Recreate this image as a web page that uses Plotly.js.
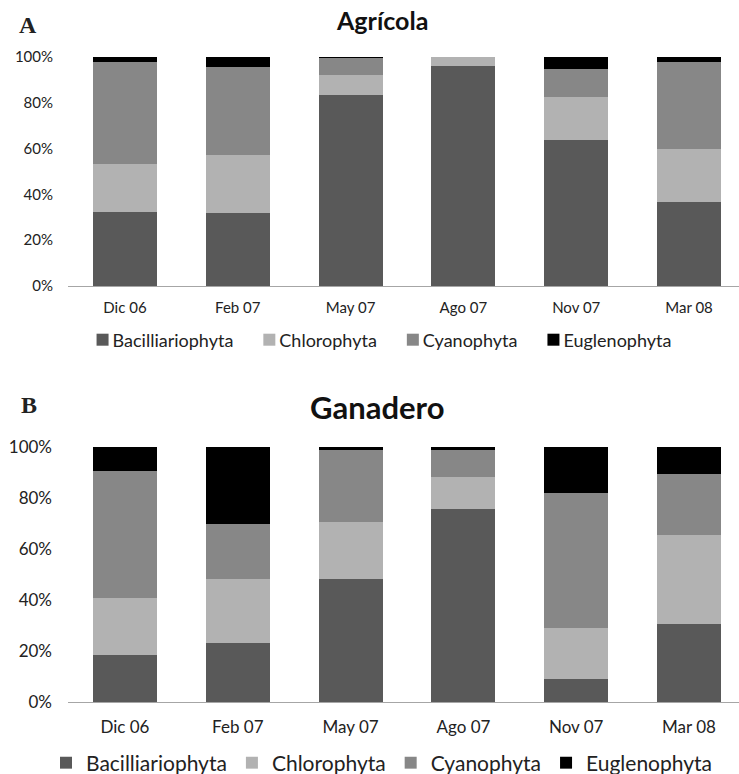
<!DOCTYPE html>
<html><head><meta charset="utf-8">
<script src="https://cdn.plot.ly/plotly-3.0.1.min.js"></script>
<style>html,body{margin:0;padding:0;background:#fff;overflow:hidden}</style>
</head><body><div id="chart" style="width:739px;height:774px"></div>
<script>
const categories = ["Dic 06","Feb 07","May 07","Ago 07","Nov 07","Mar 08"];
const seriesNames = ["Bacilliariophyta","Chlorophyta","Cyanophyta","Euglenophyta"];
const seriesColors = ["#595959","#b2b2b2","#878787","#000000"];
const agricolaBacill = [32.3, 32.0, 83.3, 96.1, 63.8, 36.7];
const agricolaChloro = [21.1, 25.1, 8.7, 3.9, 18.9, 23.3];
const agricolaCyano = [44.5, 38.4, 7.4, 0, 11.9, 37.7];
const agricolaEugleno = [2.1, 4.5, 0.6, 0, 5.4, 2.3];
const ganaderoBacill = [18.5, 23.1, 48.1, 75.5, 9.0, 30.5];
const ganaderoChloro = [22.2, 25.0, 22.3, 12.5, 20.1, 35.1];
const ganaderoCyano = [49.8, 21.7, 28.2, 10.7, 52.7, 23.6];
const ganaderoEugleno = [9.5, 30.2, 1.4, 1.3, 18.2, 10.8];
const yTicks = [0,20,40,60,80,100];
const yTickText = yTicks.map(v => v + "%");

const FONT = "Lato, 'Open Sans', sans-serif";
const agricola = [agricolaBacill, agricolaChloro, agricolaCyano, agricolaEugleno];
const ganadero = [ganaderoBacill, ganaderoChloro, ganaderoCyano, ganaderoEugleno];
const traces = [];
agricola.forEach((vals, i) => traces.push({
  type: "bar", x: categories, y: vals, name: seriesNames[i], xaxis: "x", yaxis: "y",
  marker: {color: seriesColors[i], line: {width: 0}}, legend: "legend", hoverinfo: "x+y+name"
}));
ganadero.forEach((vals, i) => traces.push({
  type: "bar", x: categories, y: vals, name: seriesNames[i], xaxis: "x2", yaxis: "y2",
  marker: {color: seriesColors[i], line: {width: 0}}, legend: "legend2", hoverinfo: "x+y+name"
}));

const H = 774, W = 739;
const py = p => 1 - p / H;
const px = p => p / W;
const xRange = [-0.505, 5.443];
const layout = {
  width: W, height: H,
  margin: {l: 0, r: 0, t: 0, b: 0, autoexpand: false},
  paper_bgcolor: "#fff", plot_bgcolor: "#fff",
  barmode: "stack", bargap: 0.433,
  showlegend: true,
  xaxis: {domain: [px(68), 1], range: xRange, type: "category", anchor: "y",
    showline: true, linecolor: "#a6a6a6", linewidth: 1, ticks: "", showgrid: false, zeroline: false,
    tickfont: {family: FONT, size: 15, color: "#222"}, ticklabelstandoff: 8},
  yaxis: {domain: [py(286), py(57)], range: [0, 100], anchor: "x", tickmode: "array", tickvals: yTicks, ticktext: yTickText,
    showgrid: false, zeroline: false, showline: false, ticks: "",
    tickfont: {family: FONT, size: 15, color: "#222"}, ticklabelstandoff: 14},
  xaxis2: {domain: [px(68), 1], range: xRange, type: "category", anchor: "y2",
    showline: true, linecolor: "#a6a6a6", linewidth: 1, ticks: "", showgrid: false, zeroline: false,
    tickfont: {family: FONT, size: 17, color: "#222"}, ticklabelstandoff: 9},
  yaxis2: {domain: [py(702.3), py(446.7)], range: [0, 100], anchor: "x2", tickmode: "array", tickvals: yTicks, ticktext: yTickText,
    showgrid: false, zeroline: false, showline: false, ticks: "",
    tickfont: {family: FONT, size: 17, color: "#222"}, ticklabelstandoff: 15},
  legend: {orientation: "h", x: px(384), xanchor: "center", y: py(340), yanchor: "middle",
    traceorder: "normal", font: {family: FONT, size: 18, color: "#222"}, itemwidth: 30, bgcolor: "rgba(0,0,0,0)"},
  legend2: {orientation: "h", x: px(382), xanchor: "center", y: py(763), yanchor: "middle",
    traceorder: "normal", font: {family: FONT, size: 21, color: "#222"}, itemwidth: 30, bgcolor: "rgba(0,0,0,0)"},
  annotations: [
    {text: "<b>Agrícola</b>", x: px(382), y: py(20), xref: "paper", yref: "paper", showarrow: false,
      xanchor: "center", yanchor: "middle", font: {family: FONT, size: 25, color: "#111"}},
    {text: "<b>Ganadero</b>", x: px(377), y: py(407), xref: "paper", yref: "paper", showarrow: false,
      xanchor: "center", yanchor: "middle", font: {family: FONT, size: 31, color: "#111"}},
    {text: "<b>A</b>", x: px(28), y: py(25), xref: "paper", yref: "paper", showarrow: false,
      xanchor: "center", yanchor: "middle", font: {family: "'Liberation Serif', serif", size: 24, color: "#222"}},
    {text: "<b>B</b>", x: px(29), y: py(405), xref: "paper", yref: "paper", showarrow: false,
      xanchor: "center", yanchor: "middle", font: {family: "'Liberation Serif', serif", size: 24, color: "#222"}}
  ]
};

// Excel-style legend spacing: small gap symbol->text, wide gap between entries
const legendTop = {center: 384, gapAfterText: 30};
const legendBottom = {center: 382, gapAfterText: 28};
const parseT = s => {
  const m = /translate\(\s*([-\d.e]+)[ ,]+([-\d.e]+)\s*\)/.exec(s || "");
  return m ? [parseFloat(m[1]), parseFloat(m[2])] : [0, 0];
};
function restyleLegends(gd) {
  const groups = new Map();
  gd.querySelectorAll("text.legendtext").forEach(t => {
    const item = t.closest("g.traces");
    const box = item && item.closest(".scrollbox");
    const leg = box && box.parentNode;
    if (!leg) return;
    if (!groups.has(leg)) groups.set(leg, []);
    groups.get(leg).push(item);
  });
  groups.forEach((items, leg) => {
    try {
      const cfg = leg.getBoundingClientRect().top < H / 2 ? legendTop : legendBottom;
      leg.querySelectorAll("[clip-path]").forEach(el => el.removeAttribute("clip-path"));
      const symLeft = 14, textX = 30;
      let x = 0, total = 0;
      items.forEach(g => {
        const t = g.querySelector("text.legendtext");
        t.setAttribute("x", String(textX));
        const tl = t.getComputedTextLength();
        const [, ty] = parseT(g.getAttribute("transform"));
        g.setAttribute("transform", `translate(${x},${ty})`);
        const end = x + textX + tl;
        total = end - symLeft;
        x = end + cfg.gapAfterText - symLeft;
      });
      const first = items[0].querySelector(".legendpoints path") || items[0];
      const r = first.getBoundingClientRect();
      const desiredLeft = cfg.center - total / 2;
      const [lx, ly] = parseT(leg.getAttribute("transform"));
      const nx = lx + desiredLeft - r.left;
      if (Math.abs(nx - lx) > 0.01) leg.setAttribute("transform", `translate(${nx},${ly})`);
    } catch (e) { console.log(e); }
  });
}
const chartDiv = document.getElementById("chart");
// re-apply whenever Plotly (re)draws legend nodes; only attributes are changed here, so no loop
const observer = new MutationObserver(() => restyleLegends(chartDiv));
observer.observe(chartDiv, {childList: true, subtree: true});
Plotly.newPlot("chart", traces, layout, {displayModeBar: false, staticPlot: true}).then(gd => {
  restyleLegends(gd);
  gd.on("plotly_afterplot", () => restyleLegends(gd));
  [0, 30, 100, 250].forEach(ms => setTimeout(() => restyleLegends(gd), ms));
});
</script></body></html>
